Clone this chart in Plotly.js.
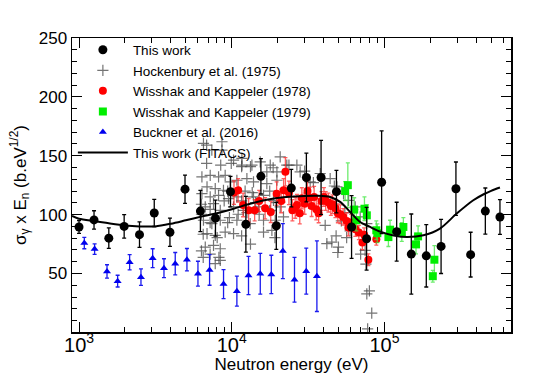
<!DOCTYPE html>
<html>
<head>
<meta charset="utf-8">
<script src="https://cdn.plot.ly/plotly-3.0.1.min.js"></script>
<style>
    body { margin: 0; background: #fff; }
    #chart { width: 549px; height: 374px; }
</style>
</head>
<body>
<div id="chart"></div>
<script>
// This work (black points)
var thisWorkE = [1000, 1254, 1567, 1975, 2489, 3109, 3940, 4944, 6237, 7827, 9818, 12380, 15530, 19590, 24560,
    30830, 38470, 48510, 60940, 76440, 95880, 120300, 150000, 188000, 235000, 294000, 367000, 458000, 571000];
var thisWorkV = [89.5, 95.5, 80, 90, 83, 101.4, 85, 121.6, 103, 97, 119.5, 91.8, 132.5, 90.5, 122.5,
    131.5, 131.5, 119.5, 89.5, 79.5, 127.5, 85.5, 66.5, 65, 73, 122, 66, 103, 98];
var thisWorkErr = [5.5, 7.8, 8.7, 10, 10.8, 11.5, 12, 12, 17.5, 15.3, 13, 23.7, 15, 20, 16,
    20.7, 31.5, 18, 26.7, 26.7, 43.7, 25, 34, 26.5, 23, 22.7, 19, 19.6, 14.8];

// Hockenbury et al. (1975)
var hockE = [6530, 7410, 8630, 8630, 10280, 11660, 11660, 13560, 15370, 17880, 20770, 22940, 26710, 16980, 19770,
    6380, 7230, 8200, 9060, 9770, 10810, 12570, 13890, 16980, 19770, 6890, 7800, 8830, 6380, 7230,
    8200, 9530, 10810, 13890, 16150, 18780, 6710, 7600, 8410, 10280, 11940, 14970, 17880, 20770, 6530,
    7410, 8410, 10810, 13210, 16150, 19270, 21830, 6890, 7800, 9060, 10280, 16150, 18330, 6710, 7600,
    8410, 40930, 41980, 45240, 50010, 7800, 8410, 74770, 76700, 28060, 32640, 37970, 44130, 48860, 53980,
    58240, 64420, 69400, 76700, 6850, 8470, 6850, 9930, 11610, 13270, 18680, 23700, 30030, 34270,
    46990, 9410, 12240, 13620, 17730, 6336, 8925, 11610, 14350, 19690, 6336, 7220, 9660, 11020, 12580,
    15130, 17730, 7220, 9410, 6506, 8030, 11610, 13270, 19180, 6336, 7220, 8245, 6506, 49540, 48270,
    56580, 59620, 69860, 75650, 79720, 82600, 52240, 61200, 55060, 77650];
var hockV = [160.5, 154.8, 161.9, 154.8, 146.3, 147.7, 142, 142, 144.8, 142, 149.1, 142, 142, 136.3, 136.3,
    132, 133.4, 132, 133.4, 127.8, 129.2, 130.6, 127.8, 126.4, 129.2, 123.5, 122.1, 120.7, 117.9, 115,
    116.4, 113.6, 115, 115, 116.4, 112.1, 106.5, 109.3, 103.6, 106.5, 103.6, 106.5, 103.6, 106.5, 95.2,
    92.3, 95.2, 95.2, 92.3, 95.2, 95.2, 98.1, 83.8, 82.4, 85.2, 83.8, 85.2, 86.6, 72.4, 73.8,
    71, 90.9, 75.3, 76.7, 72.4, 58.3, 61.1, 69.6, 32.7, 136.3, 127.8, 134.9, 130.6, 123.5, 117.9,
    112.1, 106.5, 98.1, 92.3, 159, 142, 143.5, 143.5, 140.7, 140.7, 139.8, 142.1, 137, 127.1,
    124.3, 120, 120, 118.7, 120, 108.8, 111.6, 111.6, 110.2, 110.2, 100.3, 104.5, 97.5, 100.3, 101.7,
    100.3, 103.1, 93.2, 93.2, 83.3, 80.5, 81.9, 74.9, 80.5, 69.2, 66.4, 63.6, 63.6, 67.8, 81.9,
    80.5, 86.2, 66.4, 57.9, 35.3, 16.4, 94.6, 94.6, 101.7, 3];

// Wisshak and Kappeler (1978)
var wk78E = [10350, 11020, 11870, 12910, 14130, 15130, 16550, 18010, 19690, 21100, 21870, 22470, 23700, 24970, 26040,
    26740, 27900, 28790, 30030, 31340, 32520, 33370, 34640, 35760, 37090, 38700, 40170, 41240, 43010, 44600,
    45760, 47770, 49560, 51430, 53690, 56580, 58060, 60590, 64520, 68010, 71720, 73620, 78480, 88520];
var wk78V = [118.7, 120.6, 108.2, 103.7, 103.7, 111.6, 105.4, 102.3, 117.8, 111.6, 120.6, 136.4, 118.4, 103.7, 105.9,
    108.2, 101.1, 113.8, 109.3, 120.1, 114.4, 107.4, 115, 104.5, 101.1, 111.6, 115, 111.6, 110.2, 107.4,
    108.8, 105.4, 101.1, 100.3, 98, 94.6, 89, 93.2, 87.6, 84.8, 76.3, 82.8, 61.6, 79.1];
var wk78Err = [10, 10, 10, 10, 9, 9, 9, 9, 10, 10, 10, 12, 10, 9, 9,
    9, 9, 9, 9, 9, 9, 9, 9, 9, 8, 8, 8, 8, 8, 8,
    8, 8, 8, 8, 7, 7, 7, 7, 6, 6, 6, 6, 5, 5];

// Wisshak and Kappeler (1979)
var wk79E = [55300, 57600, 63400, 65500, 74000, 76700, 88500, 89900, 106200, 108900, 130000, 133100, 161000, 166200, 207400, 212500];
var wk79V = [120, 125, 104.3, 95.2, 105, 99.4, 86.7, 84.2, 80.9, 87.2, 85.2, 89.5, 74.7, 81.5, 47.7, 61.7];
var wk79Err = [8, 19, 10, 9, 10, 9, 8, 8, 8, 8, 8, 8, 8, 9, 5, 12];

// Buckner et al. (2016)
var bucknerE = [1083, 1265, 1525, 1790, 2145, 2545, 3035, 3600, 4266, 5090, 6010, 7160, 8840, 10810, 12880,
    15380, 18170, 21620, 25770, 30770, 36130];
var bucknerV = [75.8, 70.7, 51.7, 43.5, 59.6, 46.9, 63, 54.5, 58.3, 61.7, 49.8, 53, 41, 35, 48.3,
    49.8, 49.2, 69, 44.6, 52, 47.7];
var bucknerErr = [4.8, 4.5, 5.7, 5, 6.5, 7, 8, 8, 9.5, 9.5, 10.6, 13, 12.3, 12.8, 16.3,
    17.3, 16.3, 23.4, 19, 19.5, 30];

// This work (FITACS) curve
var fitE = [900, 1000, 1250, 1500, 2000, 2500, 3160, 4000, 5000, 6300, 8000, 10280, 13200, 17000, 21800, 28000,
    36100, 44100, 51300, 59700, 69400, 80600, 93800, 115000, 140300, 180000, 231000, 297500, 382000, 450000, 500000, 571000];
var fitV = [98.9, 96.5, 94.5, 93, 90.8, 90, 90, 92.3, 95.2, 98.3, 101.2, 105, 109.2, 112.6, 114.8, 115.7,
    116, 115, 110.8, 102.2, 93.7, 89.5, 85.5, 82.3, 80.9, 82.4, 88.1, 100.9, 112.2, 117.5, 120.2, 123];

var FONT = "Liberation Sans, Arial, Helvetica, sans-serif";

function errBars(arr, color) {
    return { type: "data", array: arr, visible: true, color: color, thickness: 1.3, width: 2 };
}

var traces = [
    {
        x: hockE, y: hockV, mode: "markers", type: "scatter",
        name: "Hockenbury et al. (1975)", legendrank: 2,
        marker: { symbol: "cross-thin-open", size: 8, color: "rgba(70,70,70,0.75)", line: { width: 1.2, color: "rgba(70,70,70,0.75)" } }
    },
    {
        x: bucknerE, y: bucknerV, mode: "markers", type: "scatter",
        name: "Buckner et al. (2016)", legendrank: 5,
        marker: { symbol: "triangle-up", size: 7, color: "#0000ee" },
        error_y: errBars(bucknerErr, "#1a1aee")
    },
    {
        x: wk78E, y: wk78V, mode: "markers", type: "scatter",
        name: "Wisshak and Kappeler (1978)", legendrank: 3,
        marker: { symbol: "circle", size: 8, color: "#ff0000" },
        error_y: errBars(wk78Err, "rgba(255,40,40,0.75)")
    },
    {
        x: wk79E, y: wk79V, mode: "markers", type: "scatter",
        name: "Wisshak and Kappeler (1979)", legendrank: 4,
        marker: { symbol: "square", size: 8, color: "#00ee00" },
        error_y: errBars(wk79Err, "rgba(60,230,60,0.75)")
    },
    {
        x: thisWorkE, y: thisWorkV, mode: "markers", type: "scatter",
        name: "This work", legendrank: 1,
        marker: { symbol: "circle", size: 9, color: "#000" },
        error_y: errBars(thisWorkErr, "#000")
    },
    {
        x: fitE, y: fitV, mode: "lines", type: "scatter",
        name: "This work (FITACS)", legendrank: 6,
        line: { color: "#000", width: 2, shape: "spline", smoothing: 0.8 }
    }
];

var layout = {
    width: 549, height: 374,
    margin: { l: 72, r: 38, t: 38, b: 42 },
    paper_bgcolor: "#fff", plot_bgcolor: "#fff",
    font: { family: FONT, size: 17, color: "#000" },
    showlegend: true,
    legend: {
        x: 0.002, y: 1.012, xanchor: "left", yanchor: "top",
        bgcolor: "rgba(0,0,0,0)", font: { family: FONT, size: 13.5, color: "#000" },
        itemwidth: 50, tracegroupgap: 0
    },
    xaxis: {
        type: "log", range: [2.954, 5.829], dtick: 1, exponentformat: "power",
        ticks: "inside", ticklen: 10, tickwidth: 1, tickcolor: "#000",
        minor: { ticks: "inside", ticklen: 5, dtick: "D1", tickcolor: "#000", showgrid: false },
        showline: true, linecolor: "#000", linewidth: 1.5, mirror: "allticks",
        showgrid: false, zeroline: false,
        ticklabelstandoff: -5,
        tickfont: { family: FONT, size: 16 },
        title: { text: "Neutron energy (eV)", font: { family: FONT, size: 17 }, standoff: 6 }
    },
    yaxis: {
        range: [0.3, 250], dtick: 50, tick0: 0,
        ticks: "inside", ticklen: 10, tickwidth: 1, tickcolor: "#000",
        minor: { ticks: "inside", ticklen: 5, dtick: 10, tickcolor: "#000", showgrid: false },
        showline: true, linecolor: "#000", linewidth: 1.5, mirror: "allticks",
        showgrid: false, zeroline: false,
        tickfont: { family: FONT, size: 17 },
        title: { text: "σ<sub>γ</sub> x E<sub>n</sub> (b.eV<sup>1/2</sup>)", font: { family: FONT, size: 17 }, standoff: 8 }
    }
};

Plotly.newPlot("chart", traces, layout, { displayModeBar: false, staticPlot: true });
</script>
</body>
</html>
